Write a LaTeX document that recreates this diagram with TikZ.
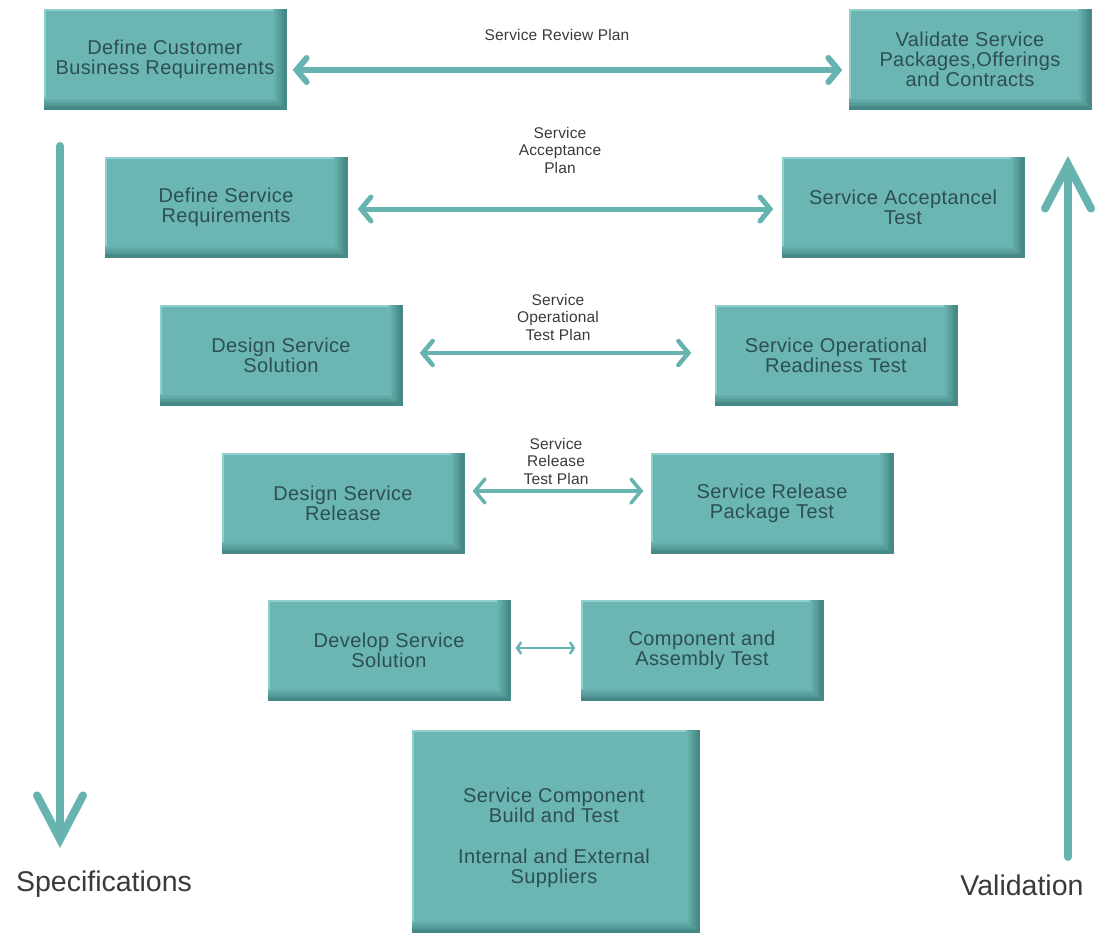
\documentclass[tikz,border=0pt]{standalone}
\usepackage{fontspec}
\setmainfont{Liberation Sans}
\newfontfamily\boxfont[LetterSpace=2]{Liberation Sans}
\newfontfamily\planfont[LetterSpace=1]{Liberation Sans}
\usetikzlibrary{arrows.meta}
\definecolor{boxc}{HTML}{6BB6B3}
\definecolor{boxdark}{HTML}{3F7F7D}
\definecolor{boxlight}{HTML}{8ED0CC}
\definecolor{arrc}{HTML}{66B3AF}
\definecolor{txtc}{HTML}{2D4F50}
\definecolor{lblc}{HTML}{3A3A3A}
\tikzset{
  bevel/.style={path picture={
      \foreach \i in {0,...,7}{
        \pgfmathtruncatemacro{\p}{\i*12}
        \fill[boxdark!\p!boxc] ([xshift=-14pt+\i*1.6pt]path picture bounding box.north east)
          rectangle (path picture bounding box.south east);
        \fill[boxdark!\p!boxc] ([yshift=12pt-\i*1.4pt]path picture bounding box.south west)
          rectangle ([xshift=-14pt+\i*1.6pt]path picture bounding box.south east);
      }
      \fill[boxlight] (path picture bounding box.north west)
        rectangle ([xshift=-14pt,yshift=-2pt]path picture bounding box.north east);
      \fill[boxlight] (path picture bounding box.north west)
        rectangle ([xshift=2pt,yshift=12pt]path picture bounding box.south west);
    }},
  stepbox/.style={minimum width=243pt, minimum height=101pt, inner sep=0pt,
    fill=boxc, text=txtc, font=\boxfont\fontsize{20}{20}\selectfont, align=center, bevel},
  boxtext/.style={text=txtc, font=\boxfont\fontsize{20}{20}\selectfont, align=center, inner sep=0pt},
  plan/.style={text=lblc, font=\planfont\fontsize{15.5}{17.5}\selectfont, align=center},
  biarrow/.style={draw=arrc, line width=5pt, line cap=round,
    {Straight Barb[length=10pt,width=24pt,line cap=round]}-{Straight Barb[length=10pt,width=24pt,line cap=round]}},
  bigarrow/.style={draw=arrc, line width=8pt, line cap=round,
    -{Straight Barb[length=44pt,width=46pt,line cap=round]}},
  side/.style={text=lblc, font=\fontsize{28.5}{30}\selectfont}
}
\begin{document}
\begin{tikzpicture}[x=1pt,y=-1pt]
\useasboundingbox (0,0) rectangle (1097,935);
% row 1
\node[stepbox] (a1) at (165,59) {Define Customer\\Business Requirements};
\node[stepbox] (b1) at (970,59) {Validate Service\\Packages,Offerings\\and Contracts};
\node[plan] (p1) at (557,35) {Service Review Plan};
\draw[biarrow, line width=6pt] ([xshift=6pt]a1.east |- 0,70) -- ([xshift=-6pt]b1.west |- 0,70);
% row 2
\node[stepbox] (a2) at (226,207) {Define Service\\Requirements};
\node[stepbox] (b2) at (903,207) {Service Acceptancel\\Test};
\node[plan] (p2) at (560,150) {Service\\Acceptance\\Plan};
\draw[biarrow, line width=5pt] ([xshift=10pt]a2.east |- 0,209) -- ([xshift=-8pt]b2.west |- 0,209);
% row 3
\node[stepbox] (a3) at (281,355) {Design Service\\Solution};
\node[stepbox] (b3) at (836,355) {Service Operational\\Readiness Test};
\node[plan] (p3) at (558,317) {Service\\Operational\\Test Plan};
\draw[biarrow, line width=4.5pt] ([xshift=17pt]a3.east |- 0,353) -- ([xshift=-23pt]b3.west |- 0,353);
% row 4
\node[stepbox] (a4) at (343,503) {Design Service\\Release};
\node[stepbox] (b4) at (772,503) {Service Release\\Package Test};
\node[plan] (p4) at (556,461) {Service\\Release\\Test Plan};
\draw[biarrow, line width=3.5pt] ([xshift=8pt]a4.east |- 0,491) -- ([xshift=-7pt]b4.west |- 0,491);
% row 5
\node[stepbox] (a5) at (389,650) {Develop Service\\Solution};
\node[stepbox] (b5) at (702,650) {Component and\\Assembly Test};
\draw[draw=arrc, line width=2.5pt, {Straight Barb[length=4pt,width=12pt]}-{Straight Barb[length=4pt,width=12pt]}]
  ([xshift=5pt]a5.east |- 0,648) -- ([xshift=-5pt]b5.west |- 0,648);
% bottom
\node[stepbox, minimum width=288pt, minimum height=203pt] (c) at (556,831) {};
\node[boxtext] (ct) at (554,838) {Service Component\\Build and Test\\[21pt]Internal and External\\Suppliers};
% side arrows
\coordinate (ls) at (60,146);
\coordinate (le) at (60,848);
\coordinate (rs) at (1068,857);
\coordinate (re) at (1068,156);
\draw[bigarrow] (ls) -- (le);
\draw[bigarrow] (rs) -- (re);
\node[side] (spec) at (104,884) {Specifications};
\node[side] (val) at (1022,885) {Validation};
\end{tikzpicture}
\end{document}
